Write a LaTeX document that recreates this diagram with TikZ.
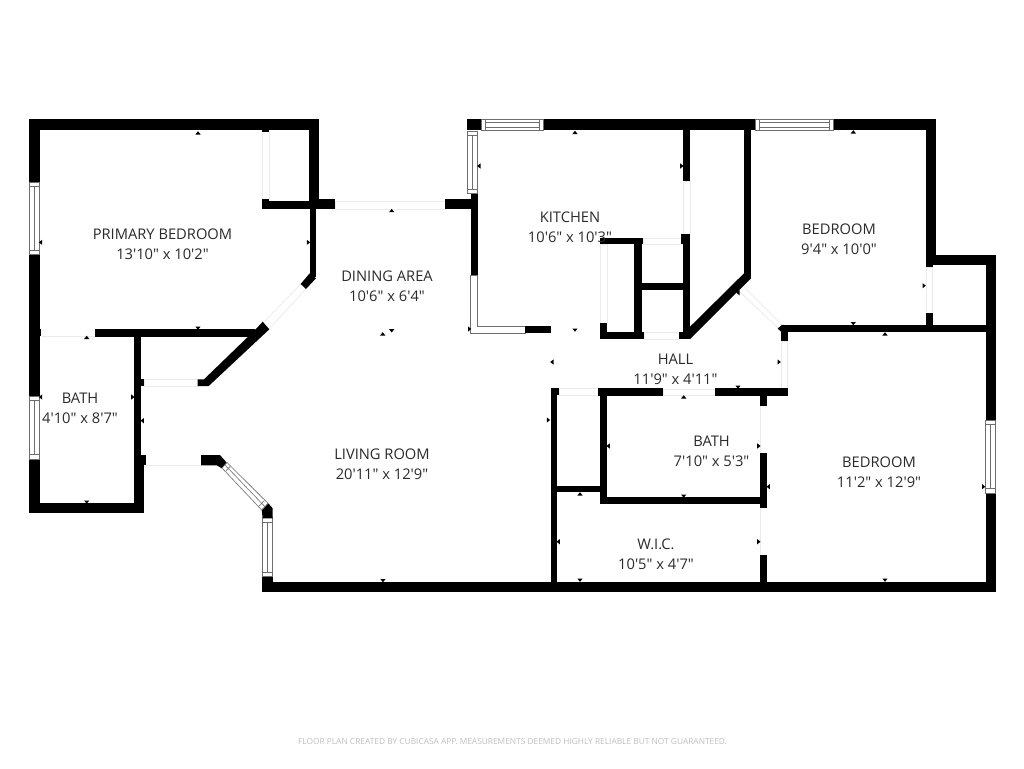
\documentclass[tikz,border=0pt]{standalone}
\usepackage{fontspec}
\newfontfamily\lbl{Open Sans}
\definecolor{labelc}{HTML}{2B2B2B}
\definecolor{winc}{HTML}{6E6E6E}
\definecolor{doorc}{HTML}{EBEBEB}
\definecolor{footc}{HTML}{C0C0C0}
\newcommand{\wl}[4]{\fill[black] (#1,#2) rectangle (#3,#4);}
\newcommand{\winH}[4]{\fill[white] (#1,#2) rectangle (#3,#4);
 \draw[windowline] (#1,#2) rectangle (#3,#4);
 \draw[windowline] (#1+4.5,#2) -- (#1+4.5,#4) (#3-4.5,#2) -- (#3-4.5,#4);
 \draw[windowline] (#1+4.5,{#2+0.75*(#4-#2)}) -- (#3-4.5,{#2+0.75*(#4-#2)});
 \draw[windowline] (#1+4.5,{#2+0.25*(#4-#2)}) -- (#3-4.5,{#2+0.25*(#4-#2)});}
\newcommand{\winV}[4]{\fill[white] (#1,#2) rectangle (#3,#4);
 \draw[windowline] (#1,#2) rectangle (#3,#4);
 \draw[windowline] (#1,#2+4.5) -- (#3,#2+4.5) (#1,#4-4.5) -- (#3,#4-4.5);
 \draw[windowline] ({#1+0.5*(#3-#1)},#2+4.5) -- ({#1+0.5*(#3-#1)},#4-4.5);}
\newcommand{\tup}[2]{\fill[black] (#1-2.6,#2+1.5) -- (#1,#2-1.8) -- (#1+2.6,#2+1.5) -- cycle;}
\newcommand{\tdn}[2]{\fill[black] (#1-2.6,#2-1.5) -- (#1,#2+1.8) -- (#1+2.6,#2-1.5) -- cycle;}
\newcommand{\tlf}[2]{\fill[black] (#1+1.5,#2-2.6) -- (#1-1.8,#2) -- (#1+1.5,#2+2.6) -- cycle;}
\newcommand{\trt}[2]{\fill[black] (#1-1.5,#2-2.6) -- (#1+1.8,#2) -- (#1-1.5,#2+2.6) -- cycle;}
\tikzset{windowline/.style={draw=winc,line width=0.6pt},
 doorline/.style={draw=doorc,line width=0.7pt},
 roomlabel/.style={font=\lbl\fontsize{14.7}{20.3}\selectfont,text=labelc,align=center,inner sep=0pt}}
\begin{document}
\begin{tikzpicture}[x=1pt,y=-1pt]
\useasboundingbox[fill=white] (0,0) rectangle (1024,768);
% doors (faint)
\draw[doorline] (262.5,131) rectangle (269.3,199);
\draw[doorline] (335,201.5) rectangle (445,209);
\draw[doorline] (300.7,284) -- (263,323) (306,289) -- (269,329);
\draw[doorline] (41,336) -- (94.7,336);
\draw[doorline] (144,379.5) rectangle (198,386);
\draw[doorline] (146,465.3) -- (201,465.3);
\draw[doorline] (683.5,181) rectangle (690,234);
\draw[doorline] (600.5,244) rectangle (607,323);
\draw[doorline] (643,238) rectangle (683,244);
\draw[doorline] (644,332) rectangle (679,339);
\draw[doorline] (744,287) -- (781.7,325) (740,292) -- (778,328);
\draw[doorline] (926,267) rectangle (932.7,313);
\draw[doorline] (781,341) rectangle (787.7,388);
\draw[doorline] (559,388.5) rectangle (598,395);
\draw[doorline] (663,389) rectangle (715,395.5);
\draw[doorline] (760,406) -- (760,453) (760,508) -- (760,555);
% outer shell, primary bedroom
\wl{29.3}{119.3}{319.3}{130}
\wl{29.3}{119.3}{39.5}{182}
\wl{29.3}{254.7}{39.5}{396}
\wl{39}{329.3}{41.3}{336}
\wl{29.3}{459}{39.5}{513.3}
\wl{29.3}{503.3}{144.3}{513.3}
\wl{134}{329.3}{140.7}{465}
\wl{134}{379.3}{144.3}{386}
\wl{134}{455}{146.3}{465.3}
\wl{134}{465}{144.3}{513.3}
\wl{94.7}{329.3}{255}{336.7}
\fill[black] (262.7,321.7) -- (269.3,329.3) -- (208.7,386) -- (197.7,386) -- (197.7,379.3) -- (204,379.3) -- (255,330) -- cycle;
\wl{262.3}{130}{269.3}{131.7}
\wl{262.3}{201.3}{334.7}{209}
\wl{262.3}{199.3}{269.3}{209}
\wl{318}{198.7}{334.7}{209}
\wl{309.3}{130}{319.3}{209}
\wl{309.7}{209}{316}{277}
\fill[black] (309.7,273.3) -- (316,278.3) -- (306,289) -- (300.7,284) -- cycle;
% kitchen
\wl{445.3}{199.3}{470.7}{209.3}
\wl{470.7}{194}{477.7}{275.7}
\wl{467.3}{119.3}{480.7}{130}
\wl{543.3}{119.3}{755}{130}
\wl{833.3}{119.3}{936}{130}
\winH{481}{119.5}{543.3}{130}
\winH{755}{119.5}{833.3}{130}
\winV{467.5}{131}{477.7}{193.5}
\draw[windowline,fill=white] (470.7,275.7) -- (470.7,333) -- (525,333) -- (525,326.7) -- (477.5,326.7) -- (477.5,275.7) -- cycle;
\wl{525}{326.3}{550.7}{333.3}
\wl{683}{130}{690}{180.7}
\wl{683}{234.3}{690}{339}
\wl{681}{234.3}{683}{244}
\wl{600}{237.7}{643.3}{244.3}
\wl{634.3}{237.7}{641.7}{339}
\wl{634.3}{282.7}{690}{290}
\wl{600.3}{331.7}{644}{339}
\wl{600.3}{322.7}{607}{339}
\wl{679}{331.7}{690}{339}
\wl{744}{130}{751}{278}
\fill[black] (744,273.3) -- (751,278.3) -- (690,339) -- (690,326.7) -- cycle;
% bedroom upper
\wl{925.7}{130}{936}{265}
\wl{925.7}{254.7}{995.7}{265}
\wl{925.7}{265}{932.7}{266.7}
\wl{985.7}{254.7}{995.7}{420}
\wl{985.7}{493}{995.7}{591.7}
\wl{925.7}{313.3}{932.7}{327}
\wl{783.3}{325.3}{985.7}{332.3}
\fill[black] (777.7,328.6) -- (782,324.8) -- (787,325.3) -- (787.7,332.3) -- (782,332.6) -- cycle;
\wl{780.7}{332}{787.7}{341.3}
% hall / bath / wic
\wl{550.7}{388.3}{557.3}{591}
\wl{550.7}{388.3}{559}{395}
\wl{597.7}{388.3}{663.3}{395.7}
\wl{715.3}{388.3}{787.7}{395.7}
\wl{600.3}{395}{607.3}{504}
\wl{600.3}{497.3}{767.3}{504}
\wl{557}{485.7}{600.5}{492.3}
\wl{760}{395}{767.3}{405.7}
\wl{760}{452.7}{767.3}{508.3}
\wl{760}{554.7}{767.3}{582}
\wl{262.3}{581.7}{995.7}{591.7}
\wl{262.3}{576.7}{272.7}{582}
% left windows and bay
\winV{29.5}{182}{39.5}{254.7}
\winV{29.5}{396}{39.5}{459}
\winV{262.7}{517.5}{272.7}{576.7}
\winV{985.7}{420}{995.5}{493}
\fill[black] (201,455) -- (220,455) -- (226.7,462.7) -- (221.7,468.3) -- (216.7,465.3) -- (201,465.3) -- cycle;
\fill[black] (261.7,510) -- (268.3,503.3) -- (272.7,508.3) -- (272.7,518.3) -- (262.7,518.3) -- cycle;
\draw[windowline,fill=white] (222,468) -- (227,462.5) -- (268,503.3) -- (261.7,510) -- cycle;
\draw[windowline] (225,465) -- (265,506.7);
\draw[windowline] (225.5,471.5) -- (230.5,466) (258.5,506.5) -- (264.5,500.5);
% dimension marks
\tup{198}{133} \tdn{198}{328} \tlf{40.7}{242.3} \trt{308.3}{242.3}
\tup{86.7}{337.5} \tlf{40.7}{397} \trt{132.7}{397} \tdn{86.7}{502}
\tlf{142.3}{420.7} \tdn{383}{580.5} \tup{391.7}{210.7}
\tup{382.7}{334} \tdn{391.7}{330.7}
\tup{575}{132.5} \tlf{479}{166} \trt{681.7}{166} \tdn{575}{330} \trt{469.5}{329}
\tlf{552}{362} \trt{779}{362} \tdn{738}{387} \tup{683.7}{397}
\tlf{608.3}{446} \trt{758.7}{446} \tdn{683.7}{496}
\tlf{768.3}{486.7} \tup{885}{334} \tdn{885}{580} \trt{983.5}{486.7}
\tlf{558.3}{541.7} \trt{758.7}{541.7} \tup{580}{494} \tdn{580}{580} \trt{548.3}{420}
\tup{853.3}{132} \tdn{853.3}{323.5} \trt{924}{285.7} \tlf{738}{292.7}
% labels
\node[roomlabel] (l1) at (162.5,244.5) {PRIMARY BEDROOM\\13'10" x 10'2"};
\node[roomlabel] (l2) at (80,408.5) {BATH\\4'10" x 8'7"};
\node[roomlabel] (l3) at (387,286.5) {DINING AREA\\10'6" x 6'4"};
\node[roomlabel] (l4) at (382,464.5) {LIVING ROOM\\20'11" x 12'9"};
\node[roomlabel] (l5) at (570,227.5) {KITCHEN\\10'6" x 10'3"};
\node[roomlabel] (l6) at (839,239) {BEDROOM\\9'4" x 10'0"};
\node[roomlabel] (l7) at (675.5,369) {HALL\\11'9" x 4'11"};
\node[roomlabel] (l8) at (711.5,451) {BATH\\7'10" x 5'3"};
\node[roomlabel] (l9) at (879,472) {BEDROOM\\11'2" x 12'9"};
\node[roomlabel] (l10) at (656,554) {W.I.C.\\10'5" x 4'7"};
\node[font=\lbl\fontsize{8.35}{10}\selectfont,text=footc,inner sep=0pt] (foot) at (512.5,742) {FLOOR PLAN CREATED BY CUBICASA APP. MEASUREMENTS DEEMED HIGHLY RELIABLE BUT NOT GUARANTEED.};
\end{tikzpicture}
\end{document}
